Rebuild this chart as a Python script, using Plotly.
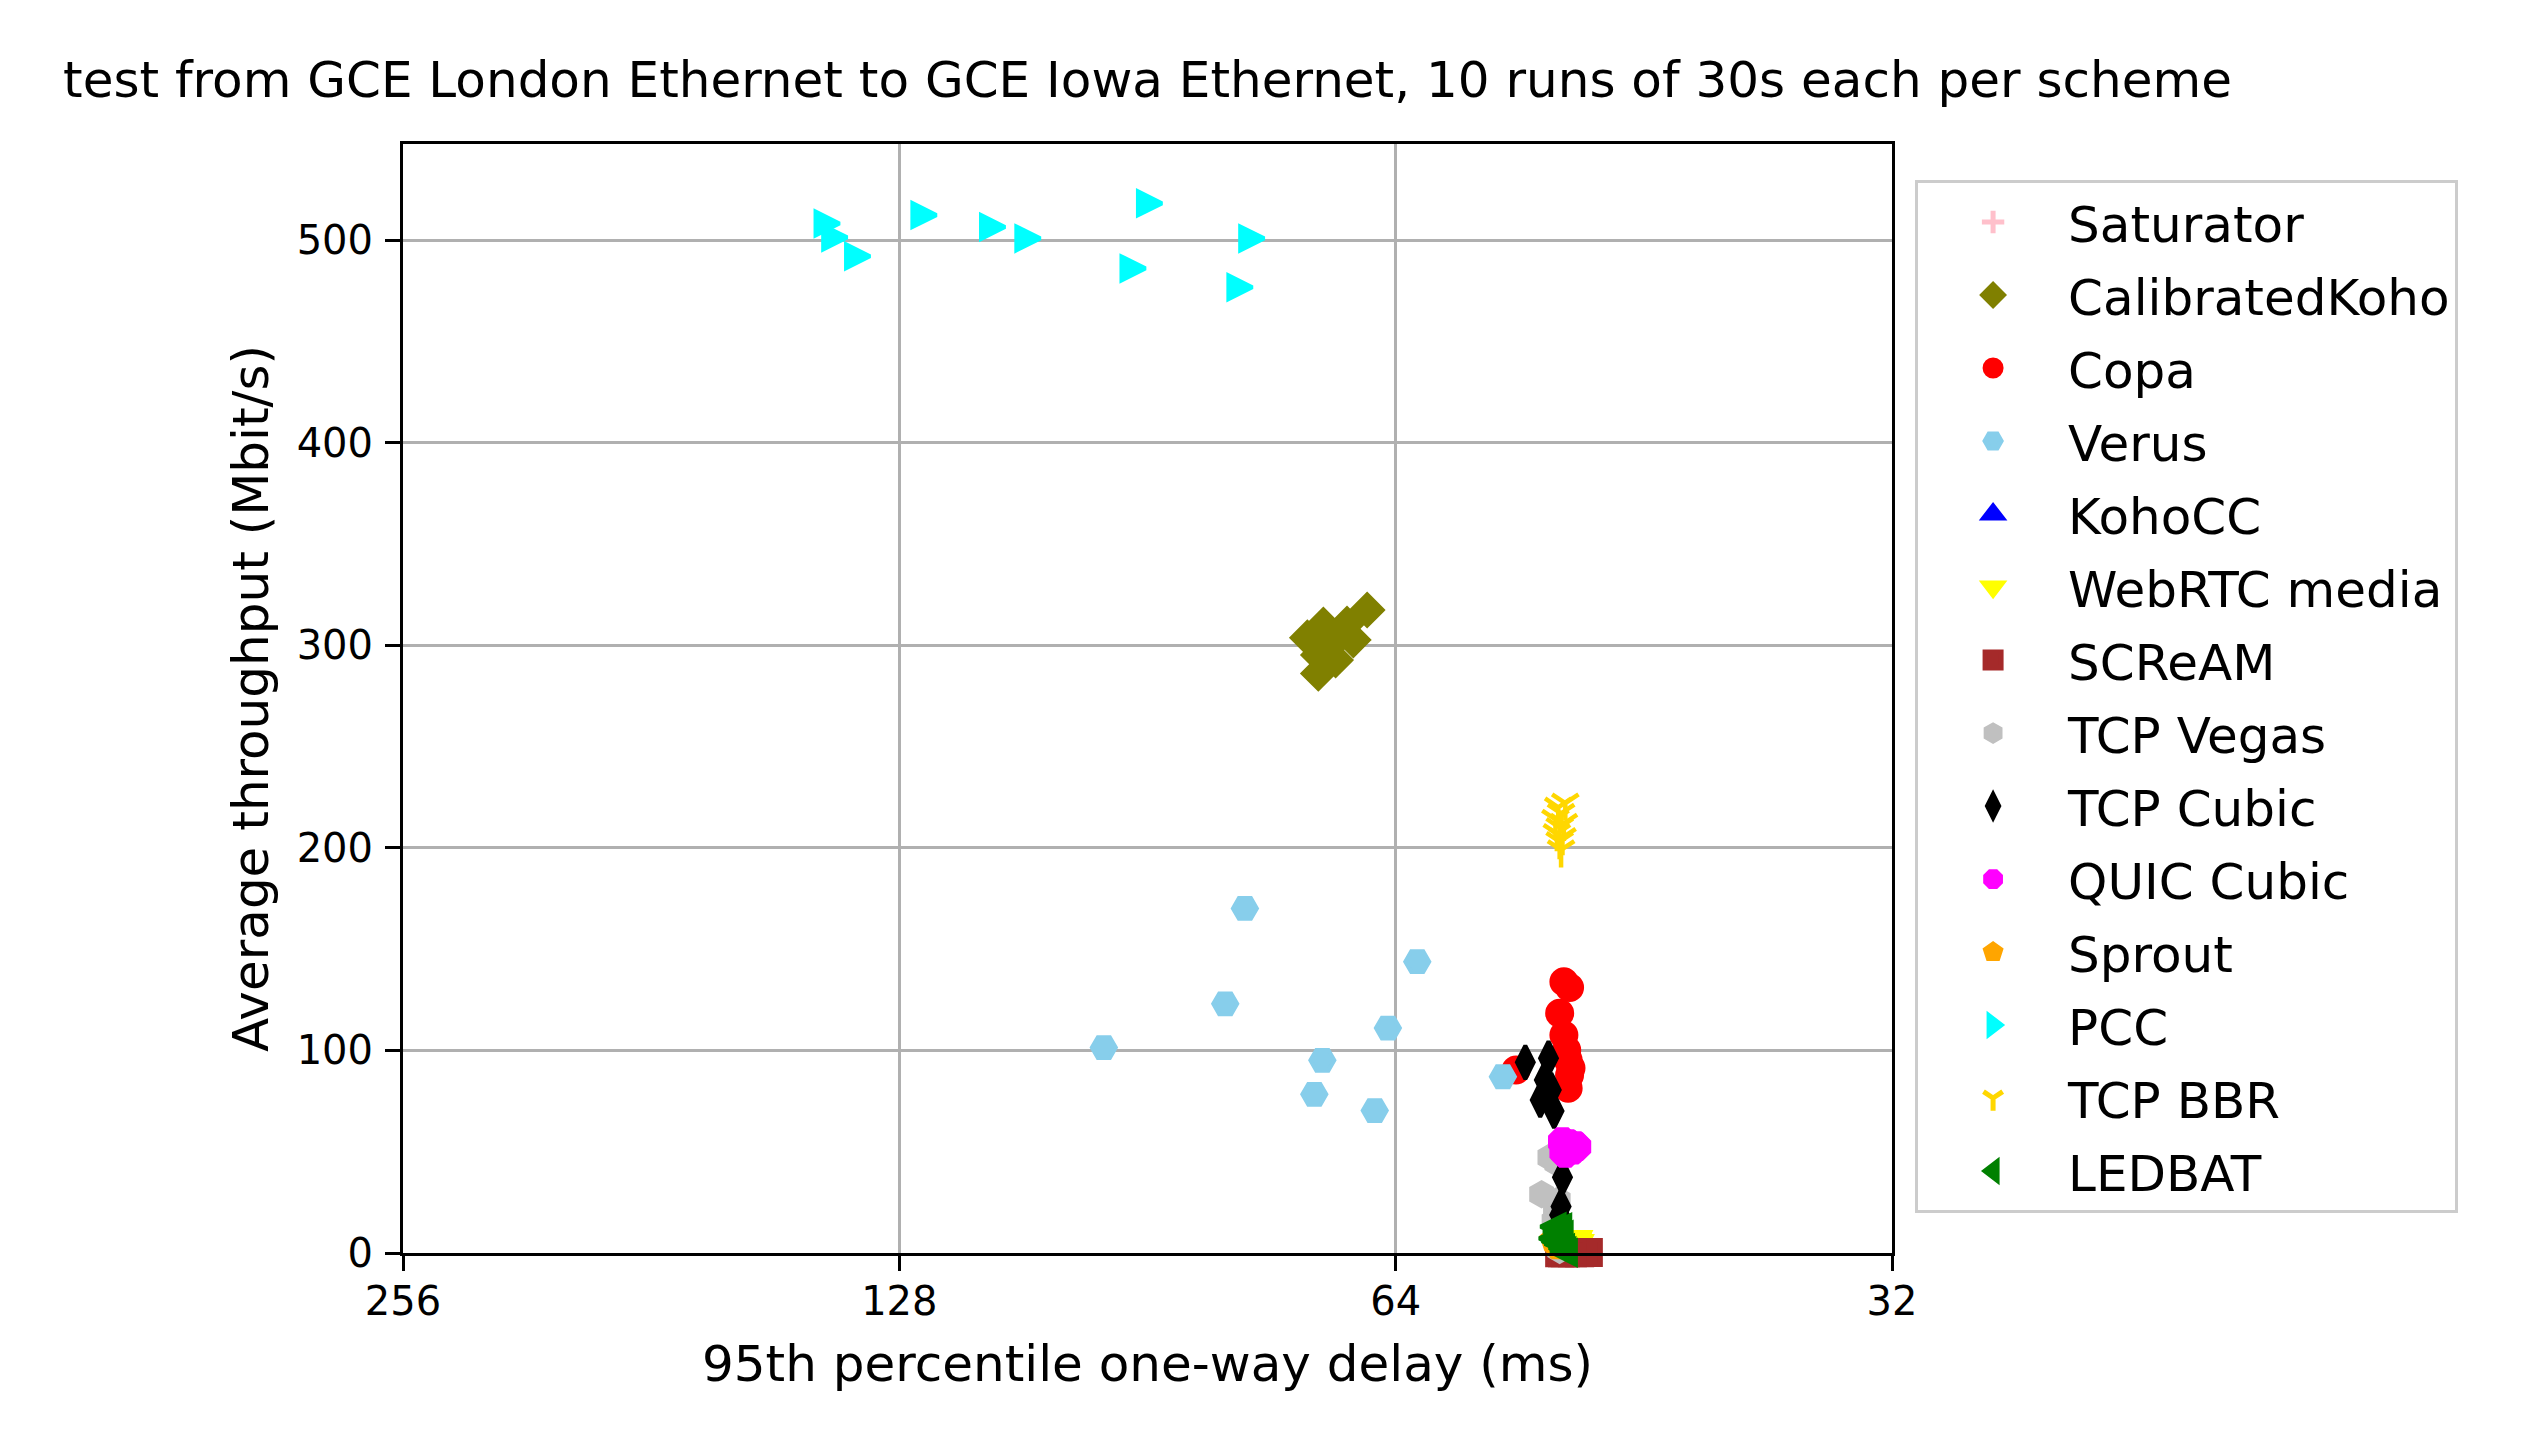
import math
import plotly.graph_objects as go

# ---------------- data ----------------
schemes = ["Saturator", "CalibratedKoho", "Copa", "Verus", "KohoCC", "WebRTC media",
           "SCReAM", "TCP Vegas", "TCP Cubic", "QUIC Cubic", "Sprout", "PCC",
           "TCP BBR", "LEDBAT"]

saturator_delay = [49.9, 50.2, 49.7, 50.0, 50.3, 49.8, 50.1, 49.6, 50.4, 50.0]
saturator_tput = [0.2, 0.4, 0.1, 0.3, 0.2, 0.5, 0.3, 0.1, 0.4, 0.2]

calibratedkoho_delay = [66.6, 70.8, 68.5, 72.4, 67.9, 71.3, 71.3, 69.6, 70.0, 69.0]
calibratedkoho_tput = [317.4, 310.0, 310.5, 303.7, 302.6, 295.2, 286.1, 292.7, 300.5, 306.0]

copa_delay = [50.6, 50.2, 50.9, 50.6, 50.4, 50.3, 50.1, 50.2, 50.3, 54.1]
copa_tput = [133.9, 131.0, 118.3, 107.6, 100.2, 95.3, 91.3, 87.9, 81.3, 90.3]

verus_delay = [79.0, 62.1, 81.2, 96.2, 64.7, 70.9, 71.7, 65.9, 55.1]
verus_tput = [170.1, 143.8, 123.0, 101.4, 111.0, 95.1, 78.3, 70.3, 87.0]

kohocc_delay = [49.8, 50.1, 49.6, 50.4, 49.9, 50.2, 49.7, 50.0, 50.3, 49.5]
kohocc_tput = [0.3, 0.2, 0.4, 0.2, 0.3, 0.1, 0.5, 0.2, 0.3, 0.4]

webrtc_delay = [49.6, 49.9, 50.2, 49.7, 50.0, 49.5, 50.3, 49.8, 49.9, 50.1]
webrtc_tput = [4.5, 2.0, 1.2, 3.0, 0.8, 2.5, 1.5, 0.5, 3.5, 1.0]

scream_delay = [50.9, 48.9, 49.5, 50.2, 49.2, 50.5, 49.8, 50.7, 49.0, 50.0]
scream_tput = [0.15, 0.2, 0.1, 0.25, 0.3, 0.15, 0.2, 0.1, 0.2, 0.15]

vegas_delay = [51.6, 51.1, 52.2, 51.0, 51.2, 51.3, 51.0, 51.2, 51.0, 50.9]
vegas_tput = [47.2, 44.5, 29.0, 26.0, 21.5, 15.5, 11.0, 7.5, 4.0, 1.5]

cubic_delay = [53.4, 51.7, 52.0, 51.5, 52.3, 51.3, 50.7, 50.8, 50.9, 50.8]
cubic_tput = [94.1, 96.1, 85.4, 80.5, 75.5, 70.1, 37.4, 22.9, 18.8, 9.0]

quic_delay = [50.7, 49.7, 50.5, 50.0, 50.2, 50.4, 49.9, 50.3, 50.6, 49.8]
quic_tput = [54.9, 52.5, 49.2, 50.8, 53.5, 52.0, 51.5, 54.0, 50.0, 53.0]

sprout_delay = [51.4, 51.2, 51.0, 51.3, 50.9, 51.1, 51.2, 51.0, 51.3, 51.1]
sprout_tput = [6.4, 5.0, 3.5, 7.0, 2.5, 4.2, 5.8, 3.0, 6.0, 4.8]

pcc_delay = [141.5, 140.0, 135.6, 123.6, 112.3, 106.9, 90.2, 92.3, 78.2, 79.5]
pcc_tput = [508.2, 501.3, 492.0, 512.3, 506.4, 500.8, 518.1, 486.0, 500.8, 476.7]

bbr_delay = [50.5, 51.0, 50.8, 51.2, 50.6, 50.9, 51.1, 50.7, 50.9, 50.8]
bbr_tput = [222.0, 220.0, 217.0, 214.0, 212.0, 210.0, 207.0, 205.0, 203.0, 199.0]

ledbat_delay = [51.4, 51.5, 50.6, 51.0, 51.2, 50.9, 51.1, 50.8, 50.7, 51.3]
ledbat_tput = [13.0, 7.2, 0.15, 12.7, 10.5, 9.0, 4.5, 2.5, 1.0, 5.8]

x_tick_values = [256, 128, 64, 32]
x_tick_labels = ["256", "128", "64", "32"]
y_tick_values = [0, 100, 200, 300, 400, 500]
y_tick_labels = ["0", "100", "200", "300", "400", "500"]

title_text = "test from GCE London Ethernet to GCE Iowa Ethernet, 10 runs of 30s each per scheme"
x_title = "95th percentile one-way delay (ms)"
y_title = "Average throughput (Mbit/s)"

# ---------------- styles: (symbol, colour, size, angle, legend symbol) ----------------
# triangles are drawn as centred "arrow-down" markers rotated to the wanted direction
styles = [
    ("cross-thin", "pink", 17, None, "cross-thin"),
    ("diamond", "olive", 24, None, "diamond"),
    ("circle", "red", 25, None, "circle"),
    ("hexagon2", "skyblue", 24, None, "hexagon2"),
    ("arrow-down", "blue", 24, 180, "triangle-up"),
    ("arrow-down", "yellow", 24, 0, "triangle-down"),
    ("square", "brown", 25, None, "square"),
    ("hexagon", "silver", 24, None, "hexagon"),
    ("diamond-tall", "black", 24, None, "diamond-tall"),
    ("octagon", "magenta", 27, None, "octagon"),
    ("pentagon", "orange", 23, None, "pentagon"),
    ("arrow-down", "cyan", 24, 270, "triangle-right"),
    ("y-down", "gold", 22, None, "y-down"),
    ("arrow-down", "green", 24, 90, "triangle-left"),
]

series = [
    (saturator_delay, saturator_tput), (calibratedkoho_delay, calibratedkoho_tput),
    (copa_delay, copa_tput), (verus_delay, verus_tput), (kohocc_delay, kohocc_tput),
    (webrtc_delay, webrtc_tput), (scream_delay, scream_tput), (vegas_delay, vegas_tput),
    (cubic_delay, cubic_tput), (quic_delay, quic_tput), (sprout_delay, sprout_tput),
    (pcc_delay, pcc_tput), (bbr_delay, bbr_tput), (ledbat_delay, ledbat_tput),
]

fig = go.Figure()
for name, (xs, ys), (sym, col, size, ang, leg_sym) in zip(schemes, series, styles):
    lw = 4.5 if sym == "y-down" else 4
    marker = dict(symbol=sym, color=col, size=size, line=dict(color=col, width=lw))
    if ang is not None:
        marker["angle"] = ang
        marker["standoff"] = size / 2
    fig.add_trace(go.Scatter(
        x=xs, y=ys, mode="markers", name=name, legendgroup=name,
        showlegend=False, cliponaxis=False, marker=marker,
    ))
    # legend entry only (no data drawn), with the thickest outline the legend allows
    fig.add_trace(go.Scatter(
        x=[None], y=[None], mode="markers", name=name, legendgroup=name,
        showlegend=True,
        marker=dict(symbol=leg_sym, color=col, size=16, line=dict(color=col, width=5)),
    ))

axis_common = dict(
    showgrid=True, gridcolor="#b0b0b0", gridwidth=3,
    showline=True, linecolor="black", linewidth=3, mirror=True,
    ticks="outside", ticklen=15, tickwidth=3, tickcolor="black",
    tickfont=dict(size=40, color="black", family="DejaVu Sans"),
    zeroline=False,
)

fig.update_layout(
    width=2539, height=1449,
    margin=dict(l=403, r=647, t=144, b=196, autoexpand=False),
    paper_bgcolor="white", plot_bgcolor="white",
    font=dict(family="DejaVu Sans", color="black"),
    title=dict(text=title_text, x=0.5, xref="paper", xanchor="center",
               y=1 - 79 / 1449, yref="container", yanchor="middle",
               font=dict(size=50, color="black", family="DejaVu Sans")),
    xaxis=dict(type="log", autorange=False,
               range=[math.log10(256), math.log10(32)],
               tickmode="array", tickvals=x_tick_values, ticktext=x_tick_labels,
               ticklabelstandoff=-4,
               title=dict(text=x_title, font=dict(size=50), standoff=23),
               **axis_common),
    yaxis=dict(autorange=False, range=[0, 547.4],
               tickmode="array", tickvals=y_tick_values, ticktext=y_tick_labels,
               ticklabelstandoff=4,
               title=dict(text=y_title, font=dict(size=50), standoff=13),
               **axis_common),
    legend=dict(x=1.0155, y=0.9675, xanchor="left", yanchor="top",
                font=dict(size=50, color="black", family="DejaVu Sans"),
                bgcolor="white", bordercolor="#cccccc", borderwidth=3,
                itemwidth=140, tracegroupgap=5, entrywidth=400,
                entrywidthmode="pixels"),
    showlegend=True,
)

fig.write_html("out.html", config={"displayModeBar": False},
               post_script="document.body.style.margin='0px';")
